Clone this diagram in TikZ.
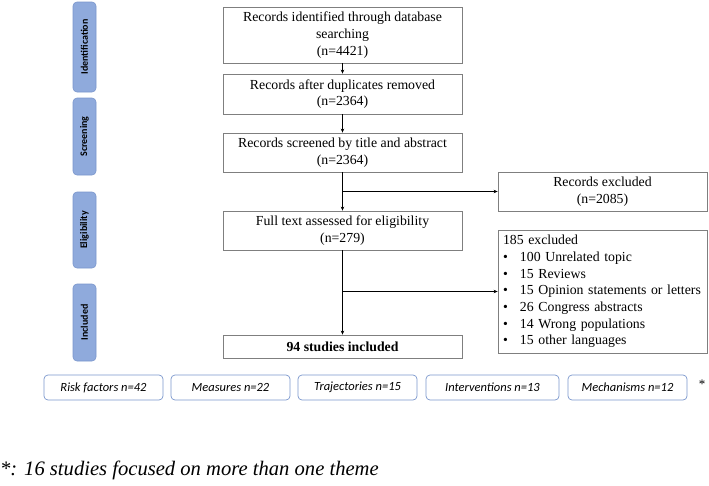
\documentclass[tikz,border=0pt]{standalone}
\usepackage{fontspec}
\setmainfont{Liberation Serif}
\newfontfamily\calfont{Carlito}
\usepackage{tikz}
\usetikzlibrary{
  arrows.meta
  , calc
}
\definecolor{phaseblue}{HTML}{8FAADC}
\definecolor{phaseline}{HTML}{7A96CC}
\definecolor{boxgray}{HTML}{7F7F7F}

\begin{document}
\begin{tikzpicture}[x=1pt,y=-1pt,
    flowbox/.style={draw=boxgray, line width=0.8pt, align=center, inner sep=2pt,
      font=\fontsize{13.8}{16.7}\selectfont},
    phase/.style={draw=phaseline, fill=phaseblue, rounded corners=4pt, line width=0.6pt,
      rotate=90, inner sep=0pt, font=\calfont\bfseries\fontsize{10}{11}\selectfont},
    theme/.style={draw=phaseline, rounded corners=4pt, line width=0.7pt,
      minimum height=25pt, inner sep=0pt, font=\calfont\itshape\fontsize{12.5}{14}\selectfont},
    flow/.style={line width=0.7pt, -{Stealth[length=4pt,width=3.5pt]}}
  ]
      \useasboundingbox (0,0) rectangle (709,485);

      % phases on the left
      \node [phase, minimum width=90pt, minimum height=23pt] (pid) at (84.5,47) {Identification};
      \node [phase, minimum width=77pt, minimum height=23pt] (psc) at (84.5,136.5) {Screening};
      \node [phase, minimum width=76pt, minimum height=23pt] (pel) at (84.5,230) {Eligibility};
      \node [phase, minimum width=77pt, minimum height=23pt] (pin) at (84.5,322.5) {Included};

      % main column
      \node [flowbox, minimum width=239pt, minimum height=56pt] (ident) at (342.5,35)
        {Records identified through database\\searching\\(n=4421)};
      \node [flowbox, minimum width=239pt, minimum height=40pt] (dup) at (342.5,94)
        {Records after duplicates removed\\(n=2364)};
      \node [flowbox, minimum width=239pt, minimum height=39pt] (scr) at (342.5,152.5)
        {Records screened by title and abstract\\(n=2364)};
      \node [flowbox, minimum width=239pt, minimum height=39pt] (full) at (342.5,230.5)
        {Full text assessed for eligibility\\(n=279)};
      \node [flowbox, minimum width=239pt, minimum height=23pt] (incl) at (342.5,346.5)
        {\bfseries 94 studies included};

      % exclusions
      \node [flowbox, minimum width=209pt, minimum height=39pt] (exa) at (602.5,191.5)
        {Records excluded\\(n=2085)};
      \node [flowbox, minimum width=209pt, minimum height=123pt, text width=199pt,
        align=left, inner sep=5pt] (exb) at (602.5,291.5)
        {185 excluded\\
         \makebox[17pt][l]{\textbullet}100 Unrelated topic\\
         \makebox[17pt][l]{\textbullet}15 Reviews\\
         \makebox[17pt][l]{\textbullet}15 Opinion statements or letters\\
         \makebox[17pt][l]{\textbullet}26 Congress abstracts\\
         \makebox[17pt][l]{\textbullet}14 Wrong populations\\
         \makebox[17pt][l]{\textbullet}15 other languages};

      \draw [flow] (ident) -- (dup);
      \draw [flow] (dup) -- (scr);
      \draw [flow] (scr) -- (full);
      \draw [flow] (full) -- (incl);
      \coordinate (ba) at (scr.south |- exa.west);
      \coordinate (bb) at (scr.south |- exb.west);
      \draw [flow] (ba) -- (exa.west);
      \draw [flow] (bb) -- (exb.west);

      % themes
      \node [theme, minimum width=119pt] (risk) at (103.5,387.5) {Risk factors n=42};
      \node [theme, minimum width=119pt] (meas) at (230.5,387.5) {Measures n=22};
      \node [theme, minimum width=119pt] (traj) at (357.5,387.5) {Trajectories n=15};
      \node [theme, minimum width=133pt] (intv) at (492.5,387.5) {Interventions n=13};
      \node [theme, minimum width=119pt] (mech) at (627.5,387.5) {Mechanisms n=12};
      \node [font=\fontsize{13}{14}\selectfont, inner sep=0pt] (star) at (702,384) {*};

      \node [anchor=west, inner sep=0pt, font=\itshape\fontsize{20.6}{24}\selectfont] (note)
        at (0,470) {*: 16 studies focused on more than one theme};

    \end{tikzpicture}
\end{document}
